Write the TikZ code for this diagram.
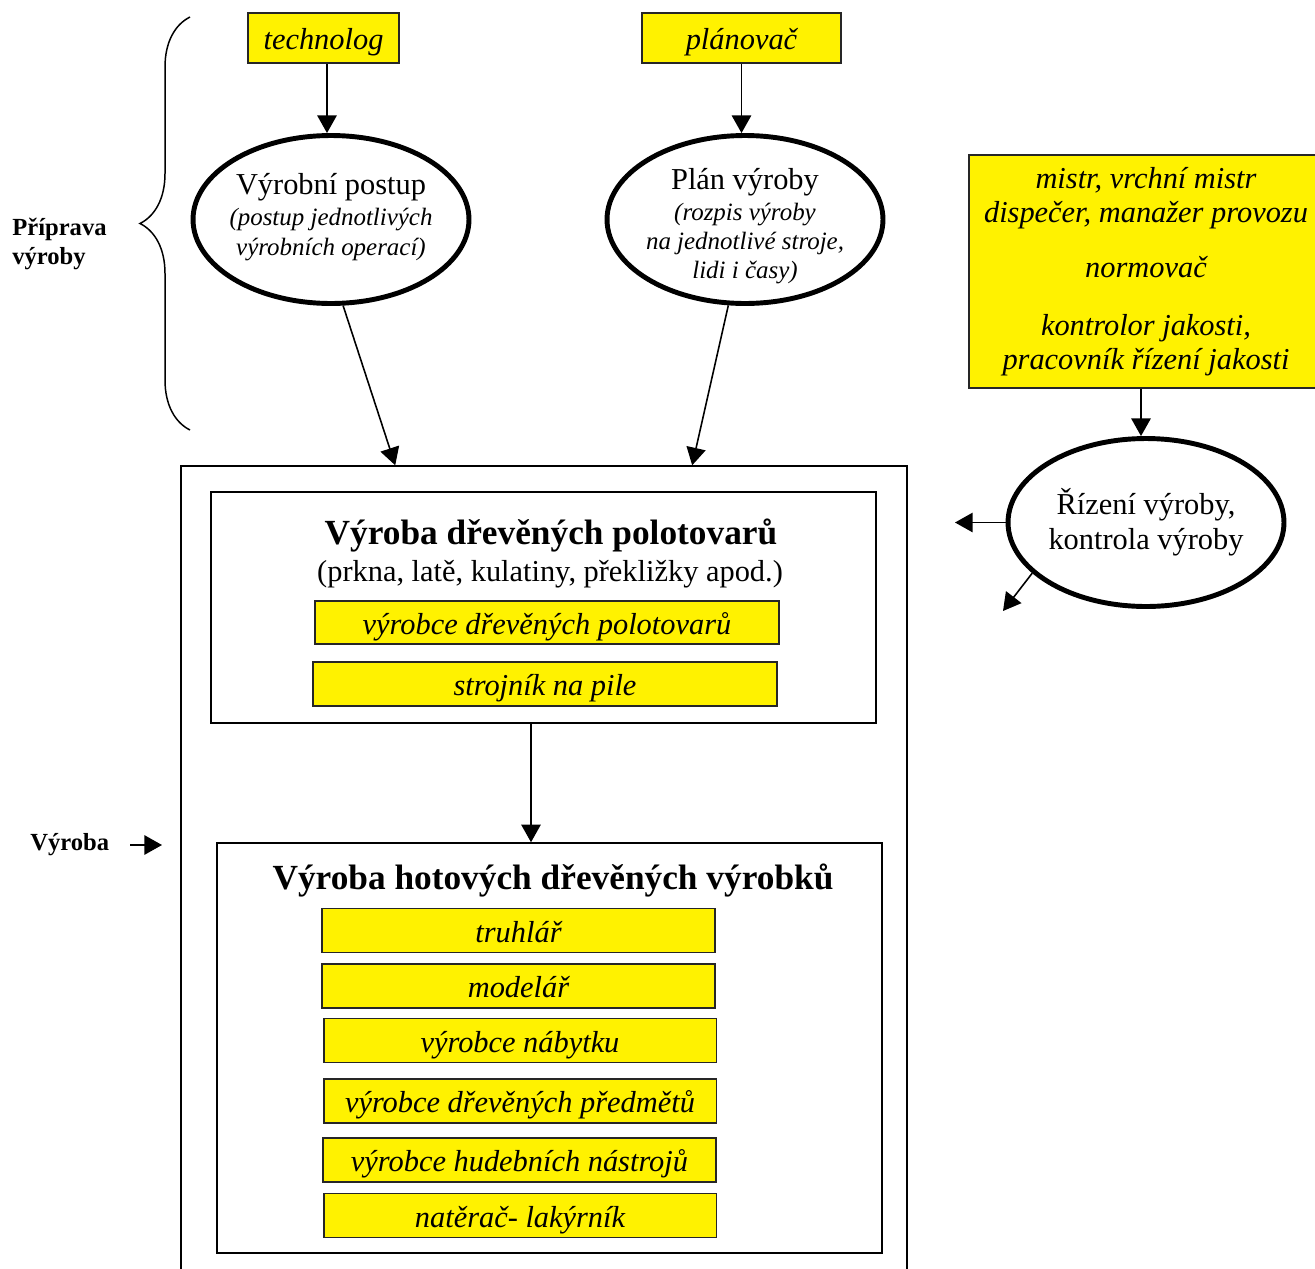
\documentclass[tikz,border=0pt]{standalone}
\usepackage{fontspec}
\setmainfont{Liberation Serif}[ItalicFont={Liberation Serif Italic}, BoldFont={Liberation Serif Bold}]
\usetikzlibrary{calc,positioning,arrows.meta,shapes,decorations.pathreplacing}

\begin{document}
\begin{tikzpicture}[x=0.02cm, y=-0.02cm, >={Triangle[length=10pt,width=11pt]}]
\tikzstyle{role}=[draw=black!85, fill=yellow, line width=1.1pt, inner sep=0pt,
                  font=\fontsize{17.3}{19.3}\selectfont\itshape]
\tikzstyle{onerole}=[role, text height=13.6pt, text depth=0pt]
\tikzstyle{task}=[ellipse, draw, line width=2.8pt, inner sep=0pt, align=center,
                  minimum width=5.52cm, minimum height=3.36cm]
\tikzstyle{tasktext}=[inner sep=0pt, align=center]
\tikzstyle{frame}=[draw, line width=0.9pt, inner sep=0pt]
\tikzstyle{arr}=[->, line width=0.9pt]
\tikzstyle{side}=[font=\fontsize{14}{16.5}\selectfont\bfseries, align=left,
                  anchor=west, inner sep=0pt]
\tikzstyle{head}=[font=\fontsize{20.1}{22}\selectfont\bfseries, inner sep=0pt]

\useasboundingbox (0,0) rectangle (1315,1268);
\clip (0,0) rectangle (1315,1268);

% priprava vyroby
\coordinate (bracetop) at (190,17);
\coordinate (bracebot) at (190,430);
\draw[decorate, decoration={brace, amplitude=1cm}, line width=0.85pt] (bracebot) -- (bracetop);
\node[side] (prip) at (12,244) {Příprava\\výroby};

\node[onerole, minimum width=3.02cm, minimum height=1cm] (tech) at (323.5,38) {technolog};
\node[onerole, minimum width=3.98cm, minimum height=1cm] (plan) at (741.5,38) {plánovač};

\node[task] (post) at (331,219.5) {};
\node[tasktext, font=\fontsize{14.2}{17}\selectfont\itshape] (posttxt) at (331,217)
  {{\upshape\fontsize{17.3}{19}\selectfont Výrobní postup}\\[1pt]
   (postup jednotlivých\\ výrobních operací)};
\node[task] (plnv) at (745,219.5) {};
\node[tasktext, font=\fontsize{14.2}{16.4}\selectfont\itshape] (plnvtxt) at (745,226)
  {{\upshape\fontsize{17.3}{19}\selectfont Plán výroby}\\[1.5pt]
   (rozpis výroby\\ na jednotlivé stroje,\\ lidi i časy)};

\draw[arr] ([xshift=0.07cm]tech.south) -- ([xshift=0.07cm]tech.south |- post.north);
\draw[arr] (plan.south) -- (plan.south |- plnv.north);

% rizeni
\node[role, minimum width=7.08cm, minimum height=4.66cm, align=center] (staff) at (1146,271.5)
  {mistr, vrchní mistr\\ dispečer, manažer provozu\\[12.5pt] normovač\\[13.5pt]
   kontrolor jakosti,\\ pracovník řízení jakosti};
\node[task, font=\fontsize{17.3}{19.8}\selectfont] (rizeni) at (1146,522.5)
  {Řízení výroby,\\ kontrola výroby};
\draw[arr] ([xshift=-0.1cm]staff.south) -- ([xshift=-0.1cm]staff.south |- rizeni.north);
\coordinate (rleft) at (955,523);
\coordinate (rdown) at (1003,611);
\draw[arr] (rizeni.west) -- (rizeni.west -| rleft);
\draw[arr] (rizeni.204) -- (rdown);

% vyroba
\node[frame, minimum width=14.52cm, minimum height=16.48cm] (vyroba) at (544,878) {};
\node[side] (vyrlbl) at (30,845) {Výroba};
\coordinate (vyrfrom) at (130,845);
\coordinate (vyrto) at (162,845);
\draw[arr] (vyrfrom) -- (vyrto);

\draw[arr] (post.-82) -- ([xshift=4.3cm]vyroba.north west);
\draw[arr] (plnv.-101.6) -- ([xshift=10.24cm]vyroba.north west);

\node[frame, minimum width=13.3cm, minimum height=4.62cm] (polo) at (543.5,607.5) {};
\node[head] (polohead) at (551,536) {Výroba dřevěných polotovarů};
\node[inner sep=0pt, font=\fontsize{17.3}{19}\selectfont] (polosub) at (550,574)
  {(prkna, latě, kulatiny, překližky apod.)};
\node[onerole, minimum width=9.28cm, minimum height=0.86cm] (vdp) at (547,622.5) {výrobce dřevěných polotovarů};
\node[onerole, minimum width=9.28cm, minimum height=0.88cm] (pila) at (545,684) {strojník na pile};

\node[frame, minimum width=13.3cm, minimum height=8.2cm] (hot) at (549.5,1048) {};
\node[head] (hothead) at (553,881) {Výroba hotových dřevěných výrobků};
\draw[arr] ([xshift=-0.25cm]polo.south) -- ([xshift=-0.25cm]polo.south |- hot.north);

\tikzstyle{job}=[onerole, minimum width=7.86cm, minimum height=0.88cm]
\node[job] (truhlar) at (518.5,930.5) {truhlář};
\node[job] (modelar) at (518.5,986) {modelář};
\node[job] (nabytek) at (520,1040.5) {výrobce nábytku};
\node[job] (predmety) at (520,1101) {výrobce dřevěných předmětů};
\node[job] (nastroje) at (519.5,1160) {výrobce hudebních nástrojů};
\node[job] (laky) at (520,1215.5) {natěrač- lakýrník};
\end{tikzpicture}
\end{document}
